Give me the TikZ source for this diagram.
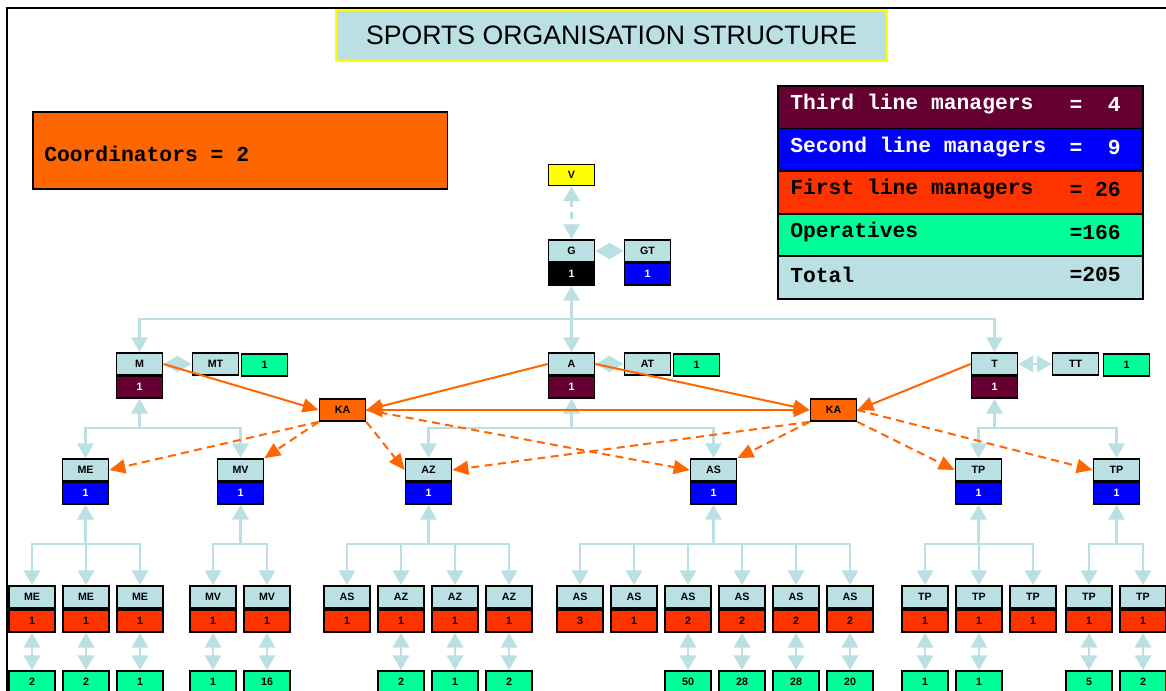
\documentclass[tikz,border=0pt]{standalone}
\usepackage{fontspec}
\setmainfont{Liberation Sans}
\newfontfamily\monob{Liberation Mono}
\usetikzlibrary{arrows.meta,calc}
\definecolor{lb}{RGB}{187,224,228}
\definecolor{maroon}{RGB}{102,0,51}
\definecolor{redf}{RGB}{255,51,0}
\definecolor{grn}{RGB}{0,255,153}
\definecolor{org}{RGB}{255,102,0}
\definecolor{blu}{RGB}{0,0,255}
\definecolor{yel}{RGB}{255,255,0}
\tikzset{
  tri/.tip={Triangle[length=11pt,width=12pt]},
  otri/.tip={Triangle[length=12pt,width=10.5pt]},
}
\begin{document}
\begin{tikzpicture}[x=0.75pt,y=-0.75pt,
  box/.style={draw=black,line width=1.3pt,minimum width=34.5pt,minimum height=16.5pt,inner sep=0pt,font=\bfseries\fontsize{8}{8}\selectfont},
  lab/.style={box,fill=lb},
  cnt/.style={box,fill=#1},
  cntw/.style={box,fill=#1,text=white},
  bl/.style={draw=lb,line width=2.2pt},
  bld/.style={bl,dash pattern=on 5pt off 4pt},
  orl/.style={draw=org,line width=1.5pt,-otri},
  ord/.style={orl,dash pattern=on 6pt off 4pt},
  leg/.style={draw=black,line width=1.3pt,minimum width=273.75pt,minimum height=32pt,anchor=north west,inner sep=0pt},
  legt/.style={font=\monob\bfseries\fontsize{16}{18}\selectfont,inner sep=0pt},
]
\useasboundingbox (0,0) rectangle (1166,691);
% frame
\draw[line width=1.2pt] (7,720) -- (7,8) -- (1190,8);

% title
\node[draw=yel,fill=lb,line width=1.2pt,minimum width=413pt,minimum height=38.25pt,inner sep=0pt,font=\fontsize{20}{23}\selectfont] (title) at (611.5,35.5) {SPORTS ORGANISATION STRUCTURE};

% coordinators
\node[draw=black,fill=org,line width=1.3pt,minimum width=311pt,minimum height=57.75pt,anchor=north west,inner sep=0pt] (coordbox) at (32,111) {};
\node[legt,anchor=west] (coordtxt) at (44,154) {Coordinators = 2};

% legend
\node[leg,fill=maroon] (L1) at (777,85) {};
\node[leg,fill=blu] (L2) at (777,127.6) {};
\node[leg,fill=redf] (L3) at (777,170.2) {};
\node[leg,fill=grn] (L4) at (777,212.8) {};
\node[leg,fill=lb] (L5) at (777,255.4) {};
\node[legt,text=white,anchor=west] (L1a) at (790,104.5) {Third line managers};
\node[legt,text=white,anchor=east] (L1b) at (1121,104.5) {=\hphantom{00}4};
\node[legt,text=white,anchor=west] (L2a) at (790,147) {Second line managers};
\node[legt,text=white,anchor=east] (L2b) at (1121,147) {=\hphantom{00}9};
\node[legt,anchor=west] (L3a) at (790,189.5) {First line managers};
\node[legt,anchor=east] (L3b) at (1121,189.5) {=\hphantom{0}26};
\node[legt,anchor=west] (L4a) at (790,232) {Operatives};
\node[legt,anchor=east] (L4b) at (1121,232) {=166};
\node[legt,anchor=west] (L5a) at (790,274.5) {Total};
\node[legt,anchor=east] (L5b) at (1121,274.5) {=205};

% top
\node[cnt=yel,minimum height=15.75pt] (V) at (571.5,175) {V};
\node[lab] (Gl) at (571.5,251) {G};
\node[cntw=black] (Gc) at (571.5,274) {1};
\node[lab] (GTl) at (647.5,251) {GT};
\node[cntw=blu] (GTc) at (647.5,274) {1};

% third line managers
\node[lab] (Ml) at (139.5,364) {M};
\node[cntw=maroon] (Mc) at (139.5,387) {1};
\node[lab] (MTl) at (215.5,364) {MT};
\node[cnt=grn] (MTc) at (264.5,365) {1};
\node[lab] (Al) at (571.5,364) {A};
\node[cntw=maroon] (Ac) at (571.5,387) {1};
\node[lab] (ATl) at (647.5,364) {AT};
\node[cnt=grn] (ATc) at (696.5,365) {1};
\node[lab] (Tl) at (994.5,364) {T};
\node[cntw=maroon] (Tc) at (994.5,387) {1};
\node[lab] (TTl) at (1075.5,364) {TT};
\node[cnt=grn] (TTc) at (1126.5,365) {1};

% coordinators KA
\node[cnt=org] (KA1) at (342.5,410) {KA};
\node[cnt=org] (KA2) at (833.5,410) {KA};

% second line managers
\foreach \n/\x/\l in {ME/85.5/ME, MV/240.5/MV, AZ/428.5/AZ, AS/713.5/AS, TPa/978.5/TP, TPb/1116.5/TP}{
  \node[lab] (\n l) at (\x,470) {\l};
  \node[cntw=blu] (\n c) at (\x,493) {1};
}

% first line managers
\foreach \x/\l/\n [count=\i] in {32/ME/1, 86/ME/1, 140/ME/1, 213/MV/1, 267/MV/1, 347/AS/1, 401/AZ/1, 455/AZ/1, 509/AZ/1, 580/AS/3, 634/AS/1, 688/AS/2, 742/AS/2, 796/AS/2, 850/AS/2, 925/TP/1, 979/TP/1, 1033/TP/1, 1089/TP/1, 1143/TP/1}{
  \node[lab] (t\i) at (\x,597) {\l};
  \node[cnt=redf] (c\i) at (\x,621) {\n};
}

% operatives
\foreach \i/\n in {1/2, 2/2, 3/1, 4/1, 5/16, 7/2, 8/1, 9/2, 12/50, 13/28, 14/28, 15/20, 16/1, 17/1, 19/5, 20/2}{
  \path (c\i) ++(0,61) node[cnt=grn] (g\i) {\n};
  \draw[bl,tri-tri] (c\i) -- (g\i);
}

% light blue connectors, top
\draw[bld,tri-tri] (V) -- (Gl);
\draw[bl,tri-tri] (Gl) -- (GTl);
\draw[bl,tri-tri] (Gc) -- (Al);
\coordinate (y319) at (0,319);
\coordinate (jG) at (Gc.south |- y319);
\draw[bl,-tri] (jG) -| (Ml.north);
\draw[bl,-tri] (jG) -| (Tl.north);
\draw[bl,tri-tri] (Ml) -- (MTl);
\draw[bl,tri-tri] (Al) -- (ATl);
\draw[bl,tri-tri] (Tl) -- (TTl);

% to second line
\coordinate (y428) at (0,428);
\coordinate (jM) at (Mc.south |- y428);
\draw[bl,-tri] (jM) -- (Mc.south);
\draw[bl,-tri] (jM) -| (MEl.north);
\draw[bl,-tri] (jM) -| (MVl.north);
\coordinate (jA) at (Ac.south |- y428);
\draw[bl,-tri] (jA) -- (Ac.south);
\draw[bl,-tri] (jA) -| (AZl.north);
\draw[bl,-tri] (jA) -| (ASl.north);
\coordinate (jT) at (Tc.south |- y428);
\draw[bl,-tri] (jT) -- (Tc.south);
\draw[bl,-tri] (jT) -| (TPal.north);
\draw[bl,-tri] (jT) -| (TPbl.north);

% to first line
\coordinate (y544) at (0,544);
\foreach \p/\list in {ME/{1,2,3}, MV/{4,5}, AZ/{6,7,8,9}, AS/{10,11,12,13,14,15}, TPa/{16,17,18}, TPb/{19,20}}{
  \coordinate (j\p) at (\p c.south |- y544);
  \draw[bl,-tri] (j\p) -- (\p c.south);
  \foreach \k in \list { \draw[bl,-tri] (j\p) -| (t\k.north); }
}

% orange coordinator lines
\draw[orl] (Ml.east) -- (KA1.west);
\draw[orl] (Al.west) -- (KA1.east);
\draw[orl] (Al.east) -- (KA2.west);
\draw[orl] (Tl.west) -- (KA2.east);
\draw[orl,otri-otri] (KA1.east) -- (KA2.west);
\draw[ord] (KA1.south west) -- (MEl.east);
\draw[ord] (KA1.south west) -- (MVl.north east);
\draw[ord] (KA1.south east) -- (AZl.west);
\draw[ord] (KA1.east) -- (ASl.west);
\draw[ord] (KA2.south west) -- (AZl.east);
\draw[ord] (KA2.south west) -- (ASl.north east);
\draw[ord] (KA2.south east) -- (TPal.west);
\draw[ord] (KA2.east) -- (TPbl.west);
\end{tikzpicture}
\end{document}
